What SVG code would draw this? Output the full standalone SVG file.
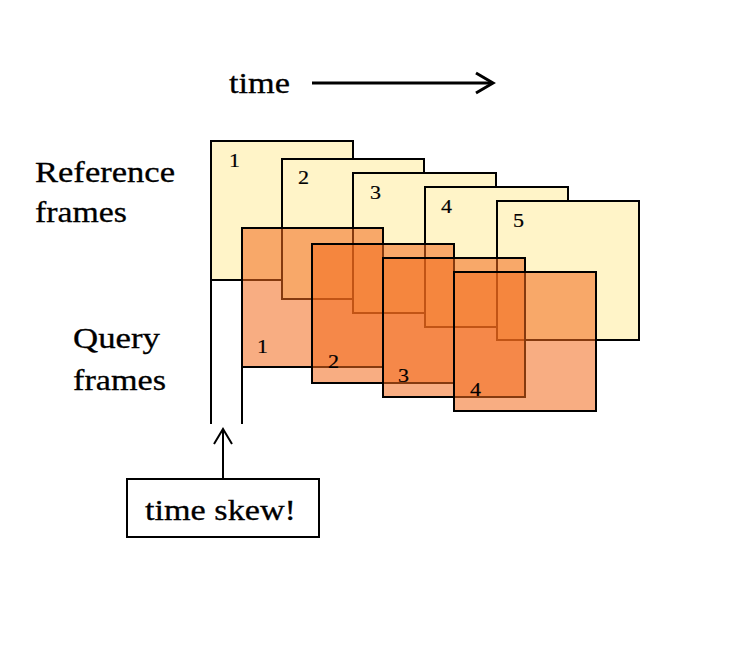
<svg xmlns="http://www.w3.org/2000/svg" width="734" height="648" viewBox="0 0 734 648">
<style>
.ref{fill:#fff4c8;stroke:#000;stroke-width:2}
.qry{fill:#f26a1b;fill-opacity:0.55;stroke:#000;stroke-width:2}
.lbl{font-family:"Liberation Serif","Times New Roman",serif;font-size:30px;fill:#000;stroke:#000;stroke-width:0.3}
.num{font-family:"Liberation Serif","Times New Roman",serif;font-size:19px;fill:#000;stroke:#000;stroke-width:0.2}
.ln{stroke:#000;fill:none;stroke-width:2}
</style>
<rect width="734" height="648" fill="#fff"/>
<g id="labels">
<text class="lbl" x="229" y="93" textLength="61" lengthAdjust="spacingAndGlyphs">time</text>
<text class="lbl" x="35" y="182" textLength="140" lengthAdjust="spacingAndGlyphs">Reference</text>
<text class="lbl" x="35" y="222" textLength="92" lengthAdjust="spacingAndGlyphs">frames</text>
<text class="lbl" x="73" y="348" textLength="87" lengthAdjust="spacingAndGlyphs">Query</text>
<text class="lbl" x="73" y="390" textLength="93" lengthAdjust="spacingAndGlyphs">frames</text>
</g>
<g id="ref1"><rect class="ref" x="211" y="141" width="142" height="139"/><text class="num" x="229" y="167" textLength="11" lengthAdjust="spacingAndGlyphs">1</text></g>
<g id="ref2"><rect class="ref" x="282" y="159" width="142" height="140"/><text class="num" x="298" y="184" textLength="11" lengthAdjust="spacingAndGlyphs">2</text></g>
<g id="ref3"><rect class="ref" x="353" y="173" width="143" height="140"/><text class="num" x="370" y="199" textLength="11" lengthAdjust="spacingAndGlyphs">3</text></g>
<g id="ref4"><rect class="ref" x="425" y="187" width="143" height="140"/><text class="num" x="441" y="213" textLength="11" lengthAdjust="spacingAndGlyphs">4</text></g>
<g id="ref5"><rect class="ref" x="497" y="201" width="142" height="139"/><text class="num" x="513" y="227" textLength="11" lengthAdjust="spacingAndGlyphs">5</text></g>
<g id="qry1"><rect class="qry" x="242" y="228" width="141" height="139"/><text class="num" x="257" y="353" textLength="11" lengthAdjust="spacingAndGlyphs">1</text></g>
<g id="qry2"><rect class="qry" x="312" y="244" width="142" height="139"/><text class="num" x="328" y="368" textLength="11" lengthAdjust="spacingAndGlyphs">2</text></g>
<g id="qry3"><rect class="qry" x="383" y="258" width="142" height="139"/><text class="num" x="398" y="382" textLength="11" lengthAdjust="spacingAndGlyphs">3</text></g>
<g id="qry4"><rect class="qry" x="454" y="272" width="142" height="139"/><text class="num" x="470" y="396" textLength="11" lengthAdjust="spacingAndGlyphs">4</text></g>
<g id="skew"><rect x="127" y="479" width="192" height="58" fill="#fff" stroke="#000" stroke-width="2"/><text class="lbl" x="145" y="520" textLength="151" lengthAdjust="spacingAndGlyphs">time skew!</text></g>
<g id="connectors">
<line class="ln" x1="211" y1="280" x2="211" y2="424"/>
<line class="ln" x1="242" y1="367" x2="242" y2="424"/>
<line class="ln" x1="223" y1="479" x2="223" y2="429"/>
<polyline class="ln" points="214,444 223,429 232,444"/>
<line x1="312" y1="83" x2="492" y2="83" stroke="#000" stroke-width="3"/>
<polyline points="476,73 493,83 476,93" fill="none" stroke="#000" stroke-width="3"/>
</g>
</svg>
